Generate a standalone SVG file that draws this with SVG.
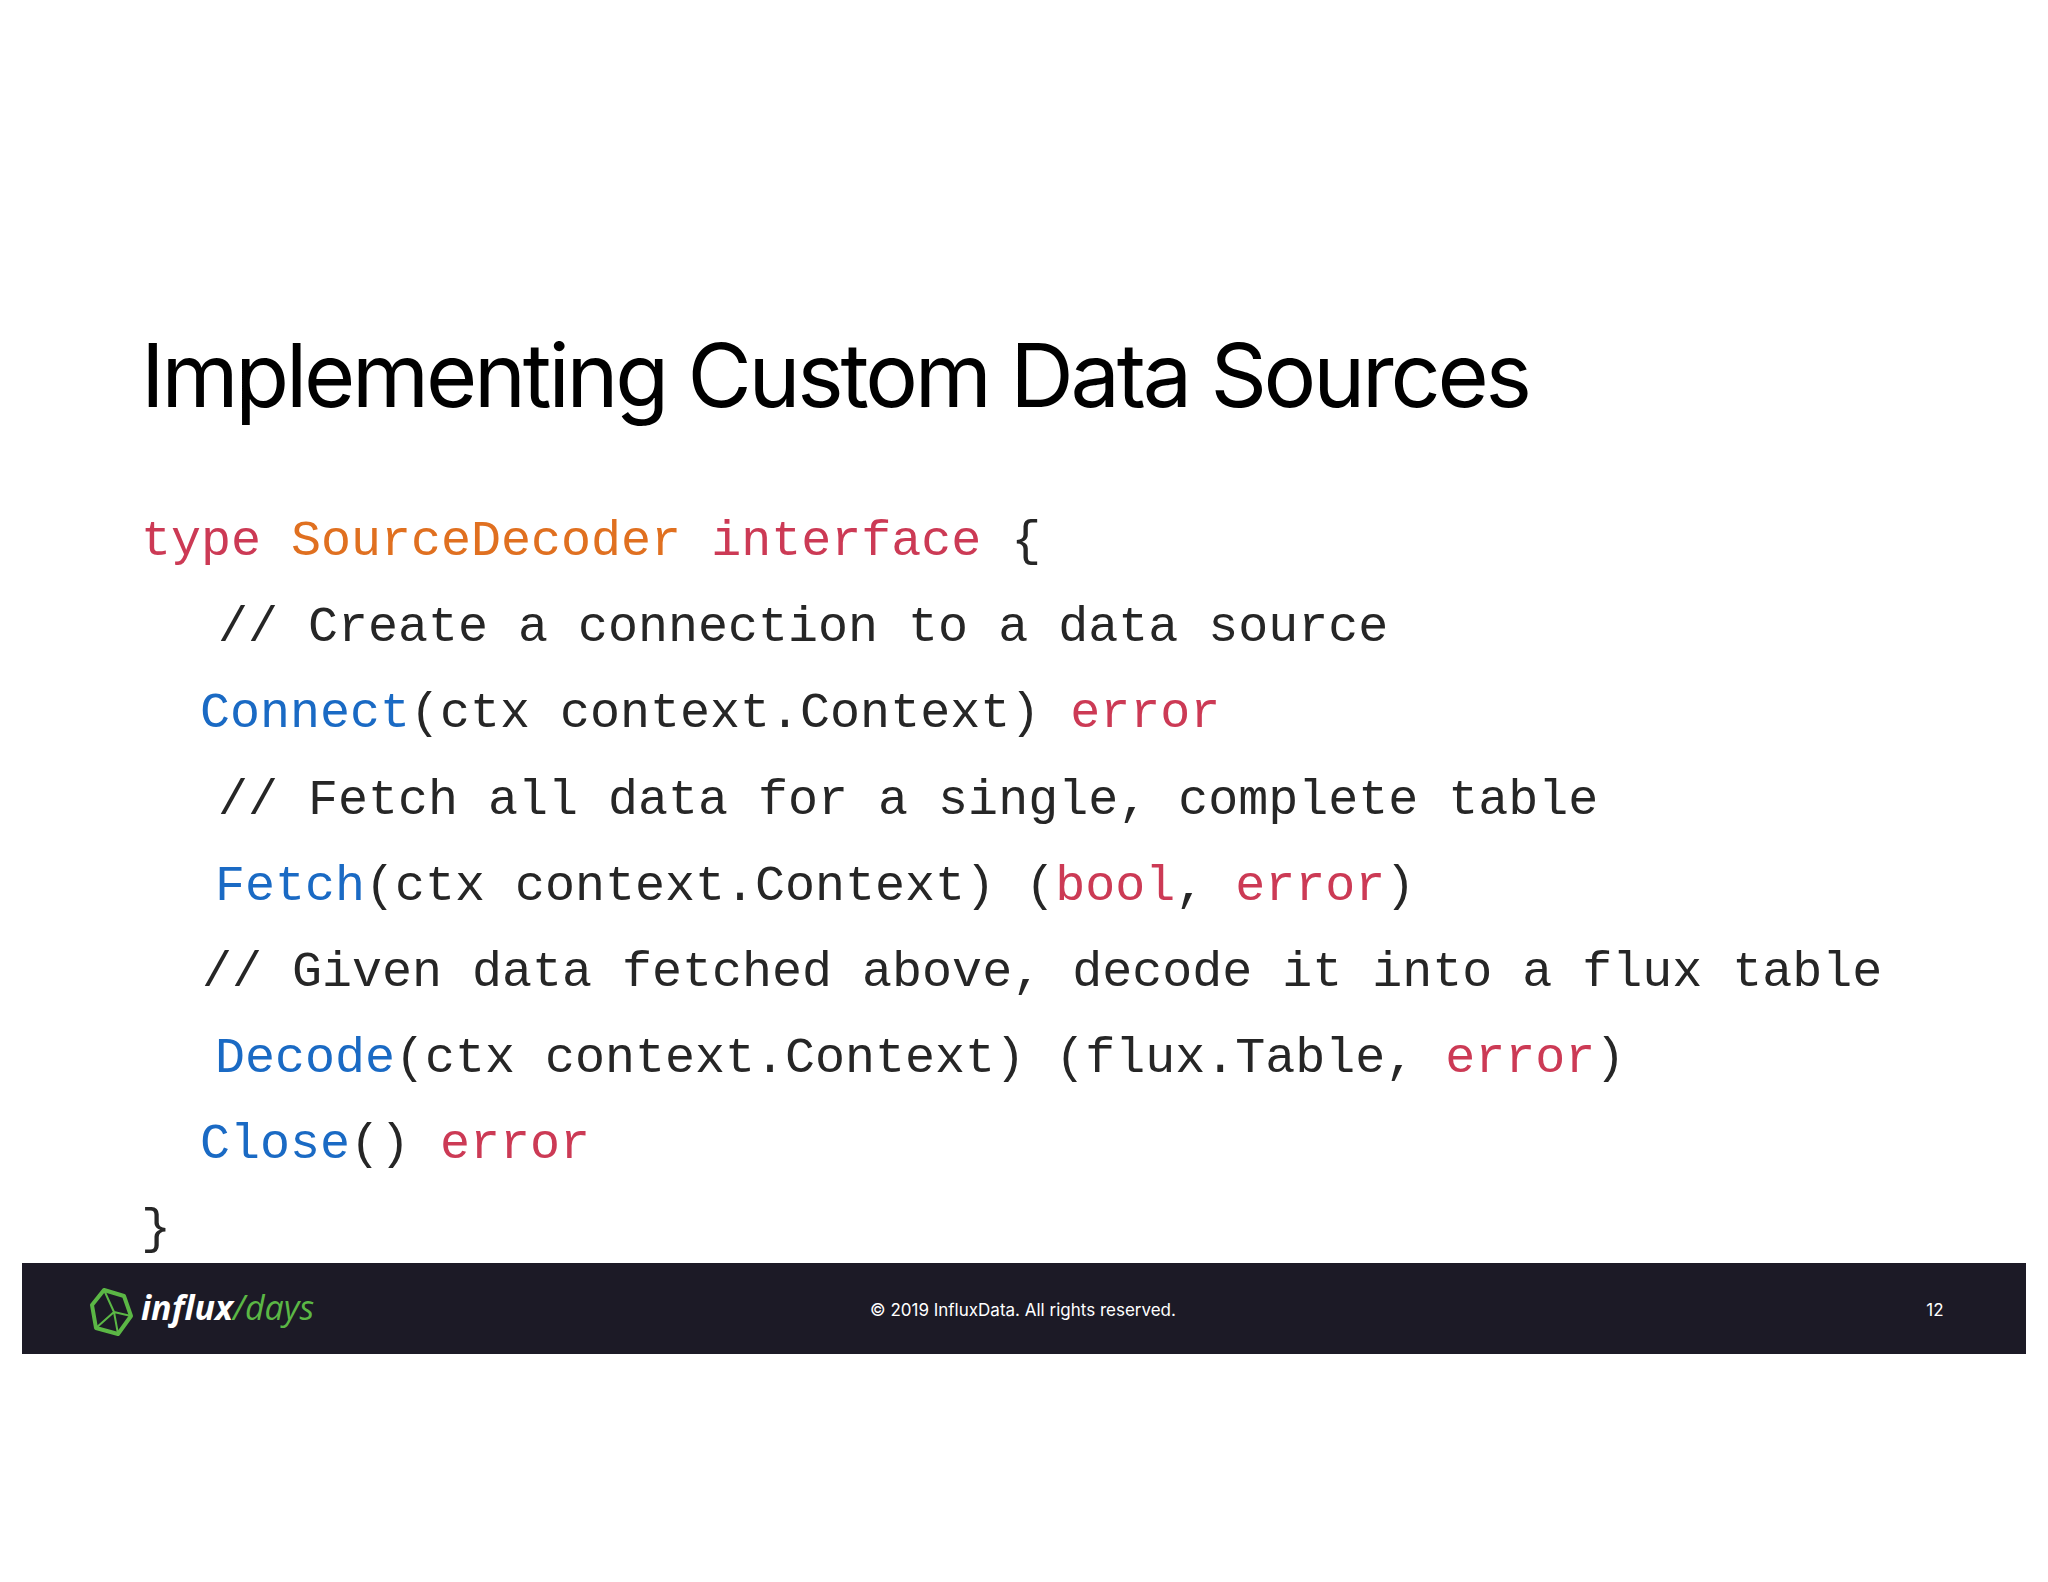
<svg xmlns="http://www.w3.org/2000/svg" width="2048" height="1582" viewBox="0 0 2048 1582">
<style>
.c{font-family:"Liberation Mono",monospace;font-size:50px;fill:#262626;white-space:pre}
.k{fill:#cc3a55}.o{fill:#e07020}.b{fill:#1a6ac4}
</style>
<rect width="2048" height="1582" fill="#fff"/>
<g id="title"><text x="141" y="407" font-family="Inter, sans-serif" font-size="88" fill="#000" textLength="1391">Implementing Custom Data Sources</text></g>
<g id="code">
<text class="c" x="141" y="555" xml:space="preserve"><tspan class="k">type</tspan> <tspan class="o">SourceDecoder</tspan> <tspan class="k">interface</tspan> {</text>
<text class="c" x="218" y="641" xml:space="preserve">// Create a connection to a data source</text>
<text class="c" x="200" y="727" xml:space="preserve"><tspan class="b">Connect</tspan>(ctx context.Context) <tspan class="k">error</tspan></text>
<text class="c" x="218" y="814" xml:space="preserve">// Fetch all data for a single, complete table</text>
<text class="c" x="215" y="900" xml:space="preserve"><tspan class="b">Fetch</tspan>(ctx context.Context) (<tspan class="k">bool</tspan>, <tspan class="k">error</tspan>)</text>
<text class="c" x="202" y="986" xml:space="preserve">// Given data fetched above, decode it into a flux table</text>
<text class="c" x="215" y="1072" xml:space="preserve"><tspan class="b">Decode</tspan>(ctx context.Context) (flux.Table, <tspan class="k">error</tspan>)</text>
<text class="c" x="200" y="1158" xml:space="preserve"><tspan class="b">Close</tspan>() <tspan class="k">error</tspan></text>
<text class="c" x="141" y="1243">}</text>
</g>
<g id="footer">
<rect x="22" y="1263" width="2004" height="91" fill="#1c1a26"/>
<g fill="none" stroke="#5bb745" stroke-width="4" stroke-linejoin="round">
<polygon points="104,1290 124,1296 131,1316 118,1334 96,1328 92,1305"/>
<path d="M104,1290 L114,1312 L118,1334 M114,1312 L131,1316 M114,1312 L96,1328" stroke-width="2"/>
</g>
<text x="141" y="1320" font-family="'Open Sans', sans-serif" font-size="34" font-style="italic" font-weight="bold" fill="#fff">influx<tspan fill="#5bb745" font-weight="normal">/days</tspan></text>
<text x="1023" y="1316" text-anchor="middle" font-family="Inter, sans-serif" font-size="17" fill="#fff">© 2019 InfluxData. All rights reserved.</text>
<text x="1935" y="1316" text-anchor="middle" font-family="Inter, sans-serif" font-size="17" fill="#fff">12</text>
</g>
</svg>
